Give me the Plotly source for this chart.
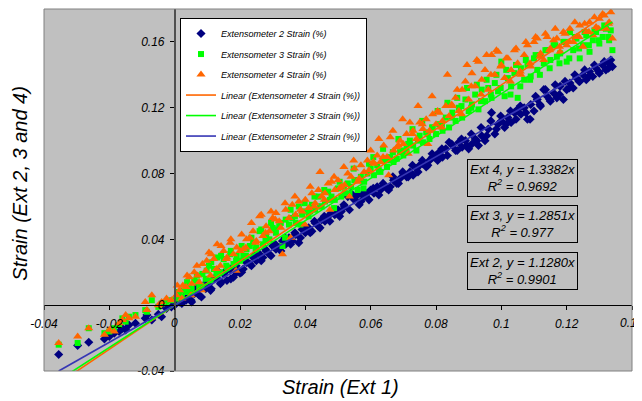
import plotly.graph_objects as go

# Ext 1 strain (x) and corresponding Ext 2, 3, 4 strains (y)
ext1 = [
    -0.0355, -0.0297, -0.0263, -0.0215, -0.0200, -0.0185, -0.0170, -0.0160, -0.0150, -0.0140,
    -0.0120, -0.0090, -0.0085, -0.0070, -0.0050, -0.0040, -0.0025, -0.0010,
    0.0005, 0.0015, 0.0025, 0.0035, 0.0045, 0.0050, 0.0060, 0.0070, 0.0075, 0.0085,
    0.0095, 0.0105, 0.0110, 0.0120, 0.0130, 0.0140, 0.0150, 0.0160, 0.0170, 0.0180,
    0.0190, 0.0200,
    0.021, 0.022, 0.023, 0.024, 0.025, 0.026, 0.027, 0.028, 0.029, 0.030,
    0.031, 0.032, 0.033, 0.034, 0.035, 0.036, 0.037, 0.038, 0.039, 0.040,
    0.041, 0.042, 0.043, 0.044, 0.045,
    0.046, 0.047, 0.048, 0.049, 0.050, 0.051, 0.052, 0.053, 0.054, 0.055,
    0.056, 0.057, 0.058, 0.059, 0.060, 0.061, 0.062, 0.063, 0.064, 0.065,
    0.066, 0.067, 0.068, 0.069, 0.070, 0.071, 0.072, 0.073, 0.074, 0.075,
    0.076, 0.077, 0.078, 0.079, 0.080,
    0.081, 0.082, 0.083, 0.084, 0.085, 0.086, 0.087, 0.088, 0.089, 0.090,
    0.091, 0.092, 0.093, 0.094, 0.095, 0.096, 0.097, 0.098, 0.099, 0.100,
    0.101, 0.102, 0.103, 0.104, 0.105, 0.106, 0.107, 0.108, 0.109, 0.110,
    0.111, 0.112, 0.113, 0.114, 0.115, 0.116, 0.117, 0.118, 0.119, 0.120,
    0.121, 0.122, 0.123, 0.124, 0.125, 0.126, 0.127, 0.128, 0.129, 0.130,
    0.131, 0.132, 0.133, 0.134,
    0.0008, 0.0022, 0.0038, 0.0052, 0.0068, 0.0082, 0.0098, 0.0112, 0.0128, 0.0142,
    0.0158, 0.0172, 0.0188, 0.0205, 0.0218, 0.0235, 0.0248, 0.0265, 0.0278, 0.0295,
    0.0308, 0.0325, 0.0338, 0.0355, 0.0368, 0.0385, 0.0398, 0.0415, 0.0428, 0.0445,
    0.0458, 0.0475, 0.0488, 0.0505, 0.0518, 0.0535, 0.0548, 0.0565, 0.0578, 0.0595,
    0.0608, 0.0625, 0.0638, 0.0655, 0.0668, 0.0685, 0.0698, 0.0715, 0.0728, 0.0745,
    0.0758, 0.0775, 0.0788, 0.0805, 0.0818, 0.0835, 0.0848, 0.0865, 0.0878, 0.0895,
    0.0908, 0.0925, 0.0938, 0.0955, 0.0968, 0.0985, 0.0998, 0.1015, 0.1028, 0.1045,
    0.1058, 0.1075, 0.1088, 0.1105, 0.1118, 0.1135, 0.1148, 0.1165, 0.1178, 0.1195,
    0.1208, 0.1225, 0.1238, 0.1255, 0.1268, 0.1285, 0.1298, 0.1315, 0.1328, 0.1335,
]

ext2 = [
    -0.030, -0.0245, -0.0225, -0.0205, -0.019, -0.017, -0.016, -0.014, -0.015, -0.012,
    -0.011, -0.008, -0.006, -0.009, -0.0055, -0.007, -0.002, -0.001,
    0.001, 0.002, 0.004, 0.003, 0.006, 0.003, 0.007, 0.009, 0.006, 0.011,
    0.010, 0.013, 0.009, 0.016, 0.021, 0.013, 0.019, 0.015, 0.022, 0.017,
    0.020, 0.0195,
    0.022, 0.026, 0.025, 0.029, 0.027, 0.031, 0.029, 0.033, 0.031, 0.036,
    0.034, 0.035, 0.039, 0.037, 0.041, 0.039, 0.043, 0.038, 0.046, 0.044,
    0.047, 0.045, 0.050, 0.048, 0.052,
    0.051, 0.054, 0.056, 0.055, 0.058, 0.057, 0.060, 0.066, 0.068, 0.064,
    0.067, 0.063, 0.066, 0.068, 0.070, 0.068, 0.072, 0.070, 0.073, 0.071,
    0.072, 0.076, 0.074, 0.077, 0.080, 0.078, 0.081, 0.079, 0.083, 0.085,
    0.086, 0.084, 0.088, 0.090, 0.091,
    0.093, 0.090, 0.095, 0.099, 0.097, 0.094, 0.099, 0.096, 0.100, 0.095,
    0.098, 0.101, 0.097, 0.103, 0.100, 0.107, 0.117, 0.104, 0.110, 0.112,
    0.108, 0.114, 0.111, 0.117, 0.119, 0.116, 0.120, 0.113, 0.122, 0.118,
    0.125, 0.121, 0.131, 0.127, 0.124, 0.129, 0.126, 0.133, 0.125, 0.131,
    0.135, 0.132, 0.138, 0.136, 0.140, 0.137, 0.142, 0.139, 0.144, 0.141,
    0.146, 0.143, 0.147, 0.145,
    0.003, 0.001, 0.007, 0.002, 0.011, 0.005, 0.014, 0.010, 0.017, 0.014,
    0.021, 0.016, 0.024, 0.020, 0.027, 0.024, 0.031, 0.027, 0.034, 0.030,
    0.037, 0.033, 0.041, 0.037, 0.044, 0.041, 0.048, 0.044, 0.051, 0.047,
    0.054, 0.051, 0.058, 0.054, 0.061, 0.058, 0.065, 0.061, 0.068, 0.064,
    0.071, 0.067, 0.074, 0.070, 0.078, 0.074, 0.081, 0.078, 0.085, 0.081,
    0.088, 0.085, 0.092, 0.088, 0.095, 0.091, 0.098, 0.094, 0.101, 0.097,
    0.104, 0.100, 0.108, 0.103, 0.112, 0.107, 0.115, 0.110, 0.118, 0.113,
    0.121, 0.117, 0.113, 0.127, 0.122, 0.131, 0.125, 0.134, 0.128, 0.136,
    0.132, 0.140, 0.136, 0.143, 0.139, 0.146, 0.142, 0.148, 0.144, 0.149,
]

ext3 = [
    -0.024, -0.023, -0.014, -0.017, -0.016, -0.014, -0.012, -0.008, -0.010, -0.007,
    -0.006, -0.003, -0.004, 0.003, -0.001, 0.001, 0.002, 0.003,
    0.004, 0.006, 0.009, 0.008, 0.012, 0.007, 0.015, 0.014, 0.011, 0.019,
    0.016, 0.024, 0.015, 0.022, 0.029, 0.020, 0.028, 0.023, 0.031, 0.025,
    0.030, 0.027,
    0.030, 0.034, 0.036, 0.038, 0.035, 0.045, 0.037, 0.042, 0.040, 0.047,
    0.044, 0.048, 0.036, 0.052, 0.049, 0.053, 0.050, 0.060, 0.055, 0.057,
    0.054, 0.061, 0.058, 0.066, 0.060,
    0.063, 0.069, 0.066, 0.064, 0.071, 0.066, 0.068, 0.074, 0.072, 0.076,
    0.070, 0.078, 0.075, 0.080, 0.083, 0.079, 0.085, 0.081, 0.088, 0.084,
    0.090, 0.087, 0.089, 0.093, 0.091, 0.095, 0.100, 0.097, 0.094, 0.103,
    0.099, 0.105, 0.101, 0.108, 0.104,
    0.110, 0.106, 0.114, 0.108, 0.117, 0.112, 0.120, 0.114, 0.125, 0.118,
    0.122, 0.128, 0.119, 0.131, 0.124, 0.132, 0.126, 0.135, 0.130, 0.148,
    0.127, 0.138, 0.133, 0.141, 0.126, 0.144, 0.137, 0.146, 0.139, 0.150,
    0.143, 0.152, 0.147, 0.155, 0.149, 0.158, 0.151, 0.153, 0.160, 0.148,
    0.166, 0.155, 0.162, 0.150, 0.158, 0.164, 0.154, 0.161, 0.166, 0.159,
    0.163, 0.168, 0.161, 0.155,
    0.008, 0.005, 0.014, 0.010, 0.018, 0.012, 0.021, 0.026, 0.019, 0.030,
    0.024, 0.033, 0.027, 0.036, 0.030, 0.041, 0.034, 0.046, 0.039, 0.050,
    0.046, 0.050, 0.041, 0.058, 0.054, 0.049, 0.062, 0.057, 0.066, 0.060,
    0.070, 0.064, 0.059, 0.075, 0.072, 0.068, 0.083, 0.076, 0.071, 0.086,
    0.090, 0.082, 0.095, 0.088, 0.093, 0.101, 0.094, 0.098, 0.107, 0.100,
    0.112, 0.104, 0.108, 0.118, 0.110, 0.123, 0.114, 0.126, 0.121, 0.132,
    0.120, 0.134, 0.124, 0.137, 0.128, 0.140, 0.132, 0.143, 0.128, 0.146,
    0.133, 0.149, 0.137, 0.152, 0.140, 0.155, 0.144, 0.158, 0.147, 0.160,
    0.150, 0.163, 0.156, 0.166, 0.158, 0.167, 0.161, 0.170, 0.163, 0.167,
]

ext4 = [
    -0.023, -0.019, -0.014, -0.018, -0.015, -0.016, -0.011, -0.009, -0.006, -0.008,
    -0.007, 0.002, -0.003, 0.006, 0.000, 0.002, 0.004, 0.003,
    0.006, 0.009, 0.012, 0.011, 0.017, 0.006, 0.020, 0.018, 0.014, 0.025,
    0.021, 0.032, 0.018, 0.028, 0.037, 0.024, 0.033, 0.029, 0.038, 0.031,
    0.035, 0.033,
    0.034, 0.040, 0.041, 0.045, 0.039, 0.054, 0.042, 0.048, 0.045, 0.053,
    0.056, 0.051, 0.031, 0.058, 0.053, 0.061, 0.055, 0.063, 0.057, 0.064,
    0.059, 0.068, 0.062, 0.070, 0.066,
    0.068, 0.074, 0.075, 0.070, 0.076, 0.072, 0.073, 0.080, 0.078, 0.083,
    0.075, 0.085, 0.081, 0.088, 0.094, 0.086, 0.091, 0.087, 0.097, 0.090,
    0.102, 0.094, 0.096, 0.100, 0.098, 0.104, 0.111, 0.106, 0.101, 0.111,
    0.107, 0.113, 0.106, 0.116, 0.110,
    0.117, 0.112, 0.121, 0.115, 0.121, 0.126, 0.118, 0.131, 0.136, 0.125,
    0.141, 0.133, 0.148, 0.137, 0.143, 0.131, 0.152, 0.140, 0.154, 0.146,
    0.138, 0.150, 0.143, 0.155, 0.147, 0.140, 0.152, 0.158, 0.145, 0.160,
    0.162, 0.153, 0.149, 0.163, 0.156, 0.161, 0.162, 0.154, 0.166, 0.158,
    0.168, 0.160, 0.163, 0.170, 0.157, 0.166, 0.172, 0.164, 0.169, 0.174,
    0.177, 0.168, 0.172, 0.162,
    0.012, 0.004, 0.018, 0.013, 0.024, 0.009, 0.027, 0.031, 0.022, 0.036,
    0.028, 0.040, 0.021, 0.043, 0.035, 0.050, 0.038, 0.055, 0.044, 0.057,
    0.052, 0.047, 0.062, 0.041, 0.066, 0.058, 0.049, 0.072, 0.060, 0.081,
    0.064, 0.058, 0.078, 0.071, 0.084, 0.066, 0.088, 0.077, 0.095, 0.082,
    0.087, 0.101, 0.090, 0.079, 0.106, 0.097, 0.113, 0.092, 0.104, 0.121,
    0.110, 0.098, 0.127, 0.118, 0.108, 0.140, 0.122, 0.131, 0.116, 0.146,
    0.133, 0.149, 0.128, 0.152, 0.140, 0.155, 0.145, 0.150, 0.136, 0.156,
    0.142, 0.160, 0.147, 0.163, 0.151, 0.165, 0.155, 0.168, 0.157, 0.165,
    0.160, 0.172, 0.163, 0.171, 0.166, 0.175, 0.168, 0.176, 0.171, 0.178,
]

# Linear trendlines through the origin (from the chart's equation labels)
series_keys = ["Ext 4", "Ext 3", "Ext 2"]
slopes = [1.3382, 1.2851, 1.1280]
r2_labels = ["0.9692", "0.977", "0.9901"]

x_ticks = [-0.04, -0.02, 0, 0.02, 0.04, 0.06, 0.08, 0.1, 0.12, 0.14]
y_ticks = [-0.04, 0, 0.04, 0.08, 0.12, 0.16]
# x tick labels drawn separately as annotations (at the axis crossing and the right edge)
x_extra_labels = [0, 0.14]

FONT = "Liberation Sans, Arial, sans-serif"
C2, C3, C4 = "#000080", "#00FF00", "#FF6600"
L2 = "#3636B4"
TICKFONT = dict(family=FONT, size=12, color="black", style="italic")

fig = go.Figure()
fig.add_trace(go.Scatter(x=ext1, y=ext2, mode="markers", name="Extensometer 2 Strain (%)",
                         legendgroup="a", marker=dict(symbol="diamond", size=7, color=C2)))
fig.add_trace(go.Scatter(x=ext1, y=ext3, mode="markers", name="Extensometer 3 Strain (%)",
                         legendgroup="b", marker=dict(symbol="square", size=6, color=C3)))
fig.add_trace(go.Scatter(x=ext1, y=ext4, mode="markers", name="Extensometer 4 Strain (%)",
                         legendgroup="c", marker=dict(symbol="triangle-up", size=8, color=C4)))

xmin, xmax = min(ext1), max(ext1)
line_cols = [C4, C3, L2]
for key, s, col, grp in zip(series_keys, slopes, line_cols, ["d", "e", "f"]):
    num = key.split()[-1]
    fig.add_trace(go.Scatter(x=[xmin, xmax], y=[s * xmin, s * xmax], mode="lines",
                             name=f"Linear (Extensometer {num} Strain (%))",
                             legendgroup=grp, line=dict(color=col, width=1.6)))

# Equation boxes (positions in data units)
box_x = [0.1065, 0.1065, 0.1065]
box_y = [0.0770, 0.0494, 0.0207]
for key, s, r2, bx, by in zip(series_keys, slopes, r2_labels, box_x, box_y):
    fig.add_annotation(x=bx, y=by, xref="x", yref="y", showarrow=False,
                       text=f"{key}, y = {s:.4f}x<br>R<sup>2</sup> = {r2}",
                       font=dict(family=FONT, size=13, color="black", style="italic"),
                       bgcolor="#C0C0C0", bordercolor="#000000", borderwidth=1, borderpad=2,
                       align="center")

for v in x_extra_labels:
    fig.add_annotation(x=v, y=0, xref="x", yref="y", showarrow=False, yanchor="middle",
                       yshift=-18, text=f"{v:g}", font=TICKFONT)

# Axis titles
fig.add_annotation(x=0.505, y=-0.044, xref="paper", yref="paper", yanchor="middle",
                   showarrow=False, text="Strain (Ext 1)",
                   font=dict(family=FONT, size=20, color="black", style="italic"))
fig.add_annotation(x=-0.041, y=0.52, xref="paper", yref="paper", textangle=-90,
                   showarrow=False, xanchor="center", yanchor="middle",
                   text="Strain (Ext 2, 3 and 4)",
                   font=dict(family=FONT, size=20, color="black", style="italic"))

# Plot-area border
fig.add_shape(type="rect", xref="paper", yref="paper", x0=0, y0=0, x1=1, y1=1,
              line=dict(color="#808080", width=1), layer="above")

fig.update_layout(
    width=634, height=393,
    margin=dict(l=36, r=10, t=1, b=30, autoexpand=False),
    paper_bgcolor="white", plot_bgcolor="#C0C0C0",
    font=dict(family=FONT, color="black"),
    showlegend=True,
    legend=dict(x=0.2313, y=0.975, xanchor="left", yanchor="top",
                bgcolor="white", bordercolor="black", borderwidth=1,
                traceorder="grouped", tracegroupgap=1.5,
                font=dict(family=FONT, size=9, color="black", style="italic")),
    xaxis=dict(range=[-0.04, 0.14], tickvals=x_ticks,
               ticktext=["" if v in x_extra_labels else f"{v:g}" for v in x_ticks],
               showgrid=False, zeroline=True, zerolinecolor="#505050", zerolinewidth=1.5,
               showline=True, linecolor="black", linewidth=1, automargin=False,
               anchor="free", position=0.04 / 0.22,
               ticks="outside", ticklen=4, tickcolor="black", ticklabelstandoff=3,
               tickfont=TICKFONT),
    yaxis=dict(range=[-0.04, 0.18], tickvals=y_ticks, ticktext=[f"{v:g}" for v in y_ticks],
               showgrid=False, zeroline=True, zerolinecolor="black", zerolinewidth=1,
               showline=True, linecolor="#505050", linewidth=1.5, automargin=False,
               anchor="free", position=0.04 / 0.18,
               ticks="outside", ticklen=4, tickcolor="black", ticklabelstandoff=3,
               tickfont=TICKFONT),
)

fig.write_html("out.html")
